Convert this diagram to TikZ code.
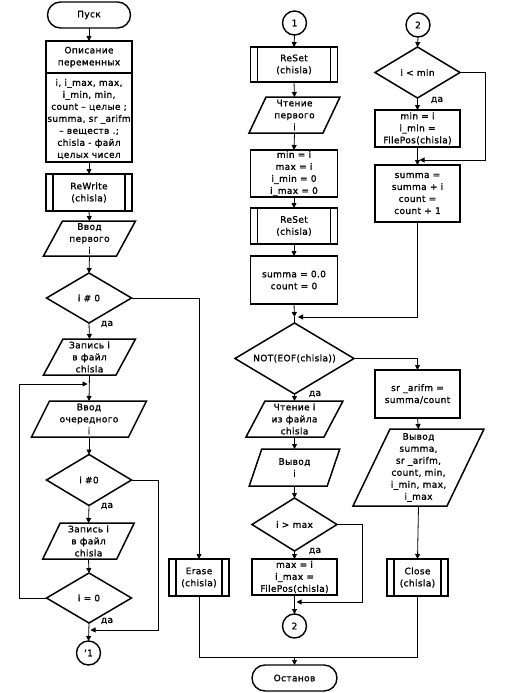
\documentclass[tikz,border=0pt]{standalone}
\usepackage{fontspec}
\setmainfont{DejaVu Sans}[LetterSpace=4, FakeBold=1.2]
\usetikzlibrary{arrows.meta}
\tikzset{
 txt/.style={align=center, inner sep=0pt, outer sep=0pt, font=\fontsize{9}{12}\selectfont},
 box/.style={txt, draw, line width=1.7pt},
 shp/.style={line width=1.5pt, line join=miter},
 term/.style={txt, draw, line width=1.4pt, rounded corners=13pt, minimum height=26pt},
 conn/.style={txt, draw, circle, line width=1.4pt, minimum size=24pt},
 wire/.style={line width=0.8pt},
 arr/.style={wire, -{Triangle[length=5pt,width=5pt]}},
 lbl/.style={txt},
}
\newcommand\Dia[6]{\node[txt,minimum width=#4pt,minimum height=#5pt] (#1) at (#2,#3) {#6};
 \draw[shp] (#1.north)--(#1.east)--(#1.south)--(#1.west)--cycle;}
\newcommand\Para[7]{\node[txt,minimum width=#4pt,minimum height=#5pt] (#1) at (#2,#3) {#7};
 \draw[shp] ([xshift=#6pt]#1.north west)--([xshift=#6pt]#1.north east)--([xshift=-#6pt]#1.south east)--([xshift=-#6pt]#1.south west)--cycle;}
\newcommand\Sub[6]{\node[box,minimum width=#4pt,minimum height=#5pt] (#1) at (#2,#3) {#6};
 \draw[line width=1.7pt] ([xshift=7pt]#1.north west)--([xshift=7pt]#1.south west) ([xshift=-7pt]#1.north east)--([xshift=-7pt]#1.south east);}
\begin{document}
\begin{tikzpicture}[x=1pt,y=-1pt]
\useasboundingbox (0,0) rectangle (504,693);
% ---- column 1
\node[term,minimum width=83pt] (start) at (89,15) {Пуск};
\node[box,minimum width=86pt,minimum height=121pt] (decl) at (89,101.5) {};
\draw[line width=1.7pt] ([yshift=-32pt]decl.north west) -- ([yshift=-32pt]decl.north east);
\node[txt] (declh) at (89,57) {Описание\\переменных};
\node[txt] (declb) at (89,119) {i, i\_max, max,\\i\_min, min,\\count – целые ;\\summa, sr \_arifm\\– веществ .;\\chisla - файл\\целых чисел};
\Sub{rewrite}{89}{192.5}{86}{37}{ReWrite\\(chisla)}
\Para{in1}{89.5}{238.5}{73}{35}{9.5}{Ввод\\первого\\i}
\Dia{d1}{89}{298}{85}{50}{i \# 0}
\Para{wr1}{89.5}{357}{72.5}{36}{9.75}{Запись i\\в файл\\chisla}
\Para{in2}{89}{419}{97}{36}{9}{Ввод\\очередного\\i}
\Dia{d2}{89}{480}{85}{51}{i \#0}
\Para{wr2}{88.5}{541}{74}{36}{8.75}{Запись i\\в файл\\chisla}
\Dia{d3}{89}{598}{85}{50}{i = 0}
\node[conn] (c1) at (88.5,653) {'1};
\node[lbl] (y1) at (107,324) {да};
\node[lbl] (y2) at (107,506) {да};
\node[lbl] (y3) at (107,621) {да};
% ---- column 2
\node[conn] (cA) at (294.5,23) {1};
\Sub{reset1}{294}{64.5}{87}{35}{ReSet\\(chisla)}
\Para{rd1}{294.5}{115}{74}{36}{8.5}{Чтение\\первого\\i}
\node[box,minimum width=87pt,minimum height=47pt] (init) at (294,173.5) {min = i\\max = i\\i\_min = 0\\i\_max = 0};
\Sub{reset2}{294}{226}{87}{36}{ReSet\\(chisla)}
\node[box,minimum width=87pt,minimum height=48pt] (sum0) at (294,280) {summa = 0.0\\count = 0};
\Dia{d4}{294.5}{358.5}{119}{71}{NOT(EOF(chisla))}
\Para{rd2}{294.5}{419}{78}{36}{9.5}{Чтение i\\из файла\\chisla}
\Para{out1}{294.5}{467.5}{78}{37}{6.25}{Вывод\\i}
\Dia{d5}{294.5}{524.5}{85}{53}{i > max}
\node[box,minimum width=85pt,minimum height=36pt] (setmax) at (294.5,577) {max = i\\i\_max =\\FilePos(chisla)};
\node[conn] (cB) at (294.5,626) {2};
\Sub{erase}{199}{577.5}{60}{37}{Erase\\(chisla)}
\node[term,minimum width=85pt] (stop) at (294.5,678) {Останов};
\node[lbl] (y4) at (315,394) {да};
\node[lbl] (y5) at (315,551) {да};
% ---- column 3
\node[conn] (cC) at (418,25) {2};
\Dia{d6}{417.5}{72.5}{85}{51}{i < min}
\node[box,minimum width=85pt,minimum height=37pt] (setmin) at (417.5,128.5) {min = i\\i\_min =\\FilePos(chisla)};
\node[box,minimum width=85pt,minimum height=57pt] (sum) at (417.5,193.5) {summa =\\summa + i\\count =\\count + 1};
\node[box,minimum width=85pt,minimum height=48pt] (sr) at (417.5,394) {sr \_arifm =\\summa/count};
\Para{out2}{418.5}{467.5}{94}{77}{18.5}{Вывод\\summa,\\sr \_arifm,\\count, min,\\i\_min, max,\\i\_max};
\Sub{close}{417.5}{577.5}{61}{37}{Close\\(chisla)}
\node[lbl] (y6) at (437,100) {да};
% ---- coordinates
\coordinate (lpL) at (19,384);
\coordinate (lp) at (87.5,384);
\coordinate (r2) at (158,630);
\coordinate (m0) at (90.5,630);
\coordinate (m1) at (294.5,317);
\coordinate (m1r) at (298,317);
\coordinate (r5) at (362,602);
\coordinate (m5) at (296.5,602);
\coordinate (j) at (294.5,657);
\coordinate (r6) at (485,160);
\coordinate (m6) at (419.5,160);
% ---- connectors column 1
\draw[arr] (start.south) -- (decl.north);
\draw[arr] (decl.south) -- (rewrite.north);
\draw[arr] (rewrite.south) -- (in1.north);
\draw[arr] (in1.south) -- (d1.north);
\draw[arr] (d1.south) -- (wr1.north);
\draw[arr] (d1.east) -| (erase.north);
\draw[arr] (wr1.south) -- (in2.north);
\draw[arr] (d3.west) -| (lpL) -- (lp);
\draw[arr] (in2.south) -- (d2.north);
\draw[arr] (d2.south) -- (wr2.north);
\draw[arr] (d2.east) -| (r2) -- (m0);
\draw[arr] (wr2.south) -- (d3.north);
\draw[arr] (d3.south) -- (c1.north);
% ---- connectors column 2
\draw[arr] (cA.south) -- (reset1.north);
\draw[arr] (reset1.south) -- (rd1.north);
\draw[arr] (rd1.south) -- (init.north);
\draw[arr] (init.south) -- (reset2.north);
\draw[arr] (reset2.south) -- (sum0.north);
\draw[arr] (sum0.south) -- (m1);
\draw[wire] (m1) -- (d4.north);
\draw[arr] (sum.south) |- (m1r);
\draw[arr] (d4.east) -| (sr.north);
\draw[arr] (d4.south) -- (rd2.north);
\draw[arr] (rd2.south) -- (out1.north);
\draw[arr] (out1.south) -- (d5.north);
\draw[arr] (d5.south) -- (setmax.north);
\draw[arr] (d5.east) -| (r5) -- (m5);
\draw[arr] (setmax.south) -- (cB.north);
\draw[wire] (erase.south) |- (j);
\draw[wire] (close.south) |- (j);
\draw[arr] (j) -- (stop.north);
% ---- connectors column 3
\draw[arr] (cC.south) -- (d6.north);
\draw[arr] (d6.south) -- (setmin.north);
\draw[arr] (d6.east) -| (r6) -- (m6);
\draw[arr] (setmin.south) -- (sum.north);
\draw[arr] (sr.south) -- (out2.north);
\draw[arr] (out2.south) -- (close.north);
\end{tikzpicture}
\end{document}
